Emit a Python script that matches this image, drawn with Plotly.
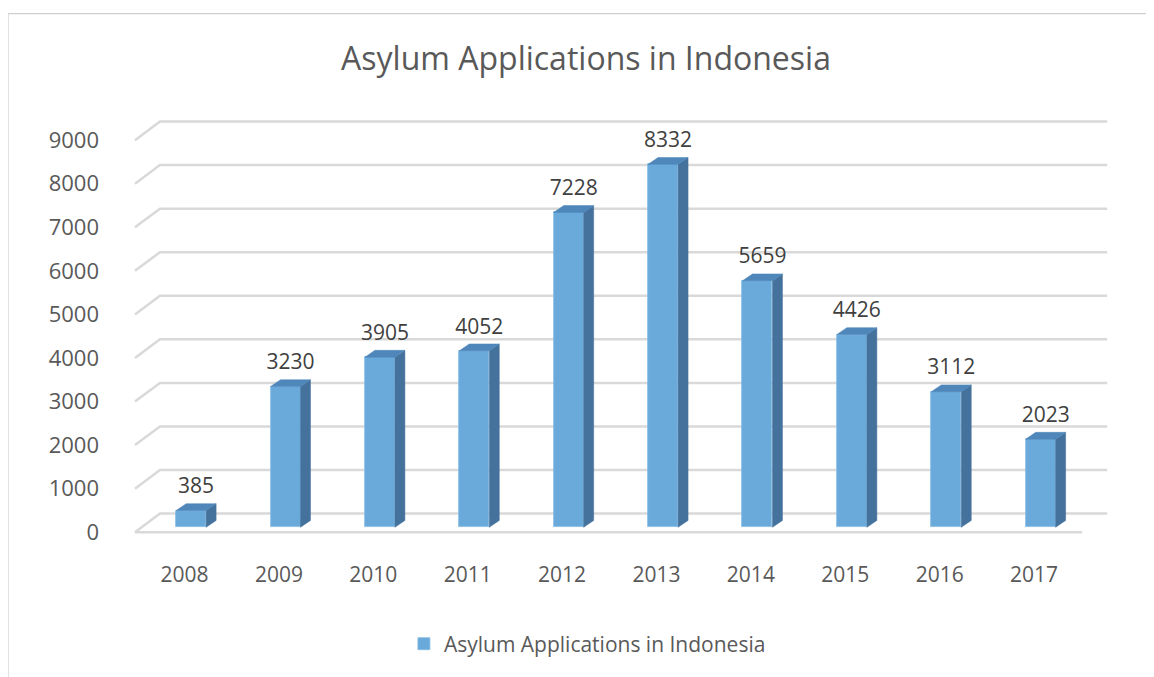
import plotly.graph_objects as go

years = ["2008", "2009", "2010", "2011", "2012", "2013", "2014", "2015", "2016", "2017"]
applications = [385, 3230, 3905, 4052, 7228, 8332, 5659, 4426, 3112, 2023]
y_ticks = [0, 1000, 2000, 3000, 4000, 5000, 6000, 7000, 8000, 9000]
series_name = "Asylum Applications in Indonesia"

# pixel scales of the plot
PX_X = 94.4            # pixels per category
PX_Y = 400.0 / 9000.0  # pixels per value unit

def dx(px):
    return px / PX_X

def dy(px):
    return px / PX_Y

# floor depth (front -> back wall)
FD_X, FD_Y = dx(25), dy(19)
# bar front offset into floor and bar depth
BF_X, BF_Y = dx(6.6), dy(5)
BD_X, BD_Y = dx(10), dy(7)
BAR_W = dx(30)
X_LEFT, X_RIGHT = -0.525, 9.51

xs = list(range(len(years)))

fig = go.Figure()

# front faces
fig.add_trace(go.Bar(
    x=[i + BF_X for i in xs], y=applications, base=BF_Y, width=BAR_W,
    marker=dict(color="#6aaadb", line=dict(color="#86bbe3", width=0.8)),
    name=series_name, showlegend=True, hoverinfo="skip",
))

# side faces
sx, sy = [], []
for i, v in zip(xs, applications):
    xr = i + BF_X + BAR_W / 2
    sx += [xr, xr + BD_X, xr + BD_X, xr, xr, None]
    sy += [BF_Y, BF_Y + BD_Y, BF_Y + v + BD_Y, BF_Y + v, BF_Y, None]
fig.add_trace(go.Scatter(x=sx, y=sy, mode="lines", fill="toself",
                         fillcolor="#44729d", line=dict(color="#44729d", width=0.5),
                         showlegend=False, hoverinfo="skip"))

# top faces
tx, ty = [], []
for i, v in zip(xs, applications):
    xl = i + BF_X - BAR_W / 2
    xr = i + BF_X + BAR_W / 2
    top = BF_Y + v
    tx += [xl, xr, xr + BD_X, xl + BD_X, xl, None]
    ty += [top, top, top + BD_Y, top + BD_Y, top, None]
fig.add_trace(go.Scatter(x=tx, y=ty, mode="lines", fill="toself",
                         fillcolor="#4f87bb", line=dict(color="#4f87bb", width=0.5),
                         showlegend=False, hoverinfo="skip"))

# data labels
fig.add_trace(go.Scatter(
    x=[i + BF_X + BD_X / 2 for i in xs],
    y=[BF_Y + BD_Y + v + dy(16) for v in applications],
    mode="text", text=[str(v) for v in applications],
    textfont=dict(family="Open Sans", size=21, color="#404040"),
    textposition="middle center", showlegend=False, hoverinfo="skip"))

# gridlines (3D wall) as shapes below the traces
shapes = []
grid_col = "#d9d9d9"
for v in y_ticks:
    path = (f"M {X_LEFT},{v} L {X_LEFT + FD_X},{v + FD_Y} "
            f"L {X_RIGHT + FD_X},{v + FD_Y}")
    shapes.append(dict(type="path", path=path, xref="x", yref="y", layer="below",
                       line=dict(color=grid_col, width=2.5)))
shapes.append(dict(type="line", x0=X_LEFT, y0=0, x1=X_RIGHT, y1=0, xref="x", yref="y",
                   layer="below", line=dict(color=grid_col, width=2.5)))
# chart border
shapes.append(dict(type="rect", xref="paper", yref="paper", x0=-0.1, x1=1.2,
                   y0=-0.6, y1=1.1842, line=dict(color="#cfcfcf", width=1.2),
                   layer="below"))

W, H = 1146, 669
fig.update_layout(
    width=W, height=H,
    margin=dict(l=101, r=35, t=88, b=125),
    paper_bgcolor="white", plot_bgcolor="white",
    font=dict(family="Open Sans", color="#595959"),
    title=dict(text="Asylum Applications in Indonesia", x=578 / W, xanchor="center",
               y=1 - 51 / H, yanchor="middle",
               font=dict(family="Open Sans", size=32, color="#595959")),
    shapes=shapes,
    showlegend=True,
    legend=dict(orientation="h", x=0.292, xanchor="left", y=-0.226, yanchor="middle",
                font=dict(family="Open Sans", size=21, color="#595959"),
                itemwidth=30),
    xaxis=dict(range=[-0.8, 9.9], tickvals=xs, ticktext=years, showgrid=False,
               zeroline=False, showline=False, ticks="",
               tickfont=dict(family="Open Sans", size=21, color="#595959"),
               ticklabelstandoff=17, fixedrange=True),
    yaxis=dict(range=[-247.5, 10013], tickvals=y_ticks, showgrid=False, zeroline=False,
               showline=False, ticks="",
               tickfont=dict(family="Open Sans", size=22, color="#595959"),
               ticklabelstandoff=9, fixedrange=True),
    bargap=0,
)

fig.write_html("out.html")
